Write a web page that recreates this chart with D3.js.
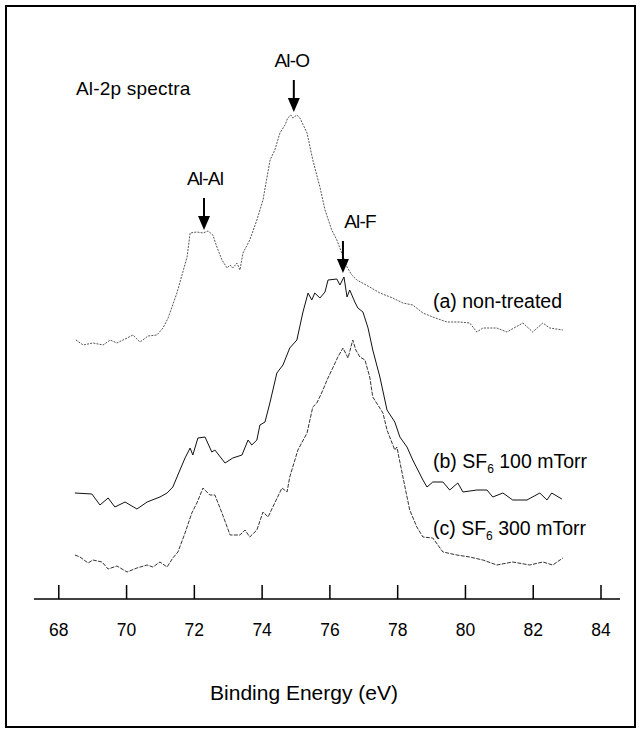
<!DOCTYPE html>
<meta charset="utf-8">
<style>
  body { margin: 0; background: #fff; }
  svg text { font-family: "Liberation Sans", Arial, sans-serif; fill: #000; }
</style>
<script src="https://d3js.org/d3.v7.min.js"></script>
<div id="chart"></div>
<script>
// binding energy (eV) / intensity (arb. units, offset per spectrum)
var seriesA = [
  [68.52,259],[68.73,254],[69.02,256],[69.32,254],[69.53,259],[69.73,256],[70.03,261],[70.20,264],
  [70.41,257],[70.65,263],[70.91,264],[71.09,271],[71.24,281],[71.50,306],[71.80,342],[71.89,366],
  [72.09,367],[72.27,366],[72.42,368],[72.56,364],[72.68,352],[72.83,339],[72.98,331],[73.07,334],
  [73.15,331],[73.27,336],[73.36,329],[73.45,346],[73.65,359],[73.86,379],[74.04,399],[74.25,439],
  [74.39,449],[74.54,466],[74.69,474],[74.77,481],[74.86,484],[74.92,481],[75.04,484],[75.13,481],
  [75.34,466],[75.51,439],[75.72,412],[75.87,389],[76.07,369],[76.22,359],[76.52,332],[76.66,324],
  [76.81,319],[77.19,312],[77.49,306],[77.87,301],[78.17,296],[78.46,294],[78.76,286],[79.05,282],
  [79.47,277],[79.85,277],[80.14,276],[80.35,267],[80.53,271],[80.94,271],[81.24,267],[81.71,276],
  [82.00,267],[82.30,276],[82.50,271],[82.89,269]
];
var seriesB = [
  [68.49,106],[68.99,105],[69.23,94],[69.47,101],[69.67,92],[69.97,97],[70.32,90],[70.62,97],
  [71.00,102],[71.21,106],[71.38,112],[71.59,129],[71.74,141],[71.89,151],[71.97,144],[72.12,161],
  [72.33,162],[72.53,147],[72.62,149],[72.92,136],[73.15,141],[73.42,144],[73.60,159],[73.71,154],
  [73.86,159],[73.95,174],[74.10,177],[74.25,197],[74.45,226],[74.63,234],[74.83,251],[75.04,259],
  [75.22,287],[75.37,306],[75.48,299],[75.57,306],[75.72,301],[75.87,307],[75.96,319],[76.22,320],
  [76.31,314],[76.43,322],[76.52,302],[76.60,309],[76.75,297],[76.84,291],[76.99,287],[77.14,271],
  [77.28,249],[77.49,222],[77.70,189],[77.93,177],[78.08,162],[78.29,152],[78.46,139],[78.76,119],
  [78.88,112],[79.05,117],[79.35,117],[79.55,109],[79.79,116],[79.94,107],[80.35,109],[80.65,109],
  [80.82,102],[81.12,106],[81.41,99],[81.83,99],[82.21,106],[82.42,99],[82.56,106],[82.86,100]
];
var seriesC = [
  [68.49,44],[68.64,42],[68.88,36],[69.02,39],[69.29,37],[69.47,30],[69.73,33],[70.03,27],
  [70.32,31],[70.62,34],[70.79,32],[71.00,37],[71.21,32],[71.38,41],[71.53,47],[71.74,66],
  [71.94,86],[72.09,96],[72.27,111],[72.47,104],[72.62,104],[72.83,86],[73.07,64],[73.36,64],
  [73.51,69],[73.65,62],[73.86,69],[74.04,87],[74.19,82],[74.33,92],[74.60,111],[74.75,107],
  [74.83,122],[75.07,149],[75.34,166],[75.51,192],[75.63,196],[75.81,209],[75.93,219],[76.07,229],
  [76.25,242],[76.40,251],[76.55,241],[76.69,259],[76.78,249],[76.90,242],[77.05,239],[77.19,222],
  [77.28,202],[77.58,186],[77.70,169],[77.93,149],[77.99,152],[78.23,112],[78.37,89],[78.58,72],
  [78.76,62],[79.05,61],[79.35,47],[79.76,44],[80.14,42],[80.53,39],[80.94,34],[81.41,37],
  [81.91,34],[82.30,37],[82.59,34],[82.89,41]
];
var tickValues = [68, 70, 72, 74, 76, 78, 80, 82, 84];
var peakNames = ["Al-Al", "Al-O", "Al-F"];
var peakEnergy = [72.3, 74.95, 76.4];
var peakLevel = [369, 487, 326];
var seriesNames = ["(a) non-treated", "(b) SF", "(c) SF"];
var seriesTails = ["", " 100 mTorr", " 300 mTorr"];

var W = 641, H = 733;
var svg = d3.select("#chart").append("svg")
  .attr("width", W)
  .attr("height", H);

// outer frame
svg.append("rect")
  .attr("x", 6).attr("y", 6)
  .attr("width", 629).attr("height", 721)
  .style("fill", "none")
  .style("stroke", "#000")
  .style("stroke-width", 2);

var x = d3.scaleLinear().domain([68, 84]).range([58.3, 600.5]);
var y = d3.scaleLinear().domain([0, 600]).range([599, -1]);

// axis
svg.append("line")
  .attr("x1", 34).attr("x2", 620)
  .attr("y1", y(0)).attr("y2", y(0))
  .style("stroke", "#000").style("stroke-width", 1.5);

var ax = svg.append("g")
  .attr("transform", "translate(0," + y(0) + ")")
  .call(d3.axisBottom(x).tickValues(tickValues).tickSize(-14).tickPadding(25).tickFormat(d3.format("d")));
ax.select(".domain").remove();
ax.selectAll(".tick line").style("stroke", "#000").style("stroke-width", 1.5);
ax.selectAll(".tick text")
  .style("font-family", "'Liberation Sans', Arial, sans-serif")
  .style("font-size", "17.5px")
  .style("fill", "#000");

svg.append("text")
  .attr("x", 304).attr("y", 700)
  .attr("text-anchor", "middle")
  .style("font-size", "21px")
  .text("Binding Energy (eV)");

svg.append("text")
  .attr("x", 76).attr("y", 95)
  .style("font-size", "19px")
  .style("letter-spacing", "0.2px")
  .text("Al-2p spectra");

// spectra
var line = d3.line()
  .x(function(d) { return x(d[0]); })
  .y(function(d) { return y(d[1]); });

var styles = [
  { data: seriesA, color: "#555", dash: "2,1.2", w: 1 },
  { data: seriesB, color: "#111", dash: null, w: 1 },
  { data: seriesC, color: "#333", dash: "4,1.3", w: 1 }
];
styles.forEach(function(s) {
  svg.append("path")
    .datum(s.data)
    .attr("d", line)
    .style("fill", "none")
    .style("stroke", s.color)
    .style("stroke-width", s.w)
    .style("stroke-dasharray", s.dash);
});

// series labels
var labelY = [308, 468, 535];
seriesNames.forEach(function(n, i) {
  var t = svg.append("text")
    .attr("x", 433).attr("y", labelY[i])
    .style("font-size", "19.5px");
  t.append("tspan").text(n);
  if (i > 0) {
    t.append("tspan").attr("dy", 5).style("font-size", "12px").text("6");
    t.append("tspan").attr("dy", -5).text(seriesTails[i]);
  }
});

// peak arrows
var labelDx = [1, -2, 17];
peakNames.forEach(function(n, i) {
  var px = x(peakEnergy[i]), tip = y(peakLevel[i]);
  svg.append("line")
    .attr("x1", px).attr("x2", px)
    .attr("y1", tip - 32).attr("y2", tip - 10)
    .style("stroke", "#000").style("stroke-width", 2);
  svg.append("path")
    .attr("d", "M" + (px - 6) + "," + (tip - 14) + "L" + (px + 6) + "," + (tip - 14) + "L" + px + "," + tip + "Z")
    .style("fill", "#000");
  svg.append("text")
    .attr("x", px + labelDx[i]).attr("y", tip - 45)
    .attr("text-anchor", "middle")
    .style("font-size", "19px")
    .style("letter-spacing", "-0.8px")
    .text(n);
});
</script>
